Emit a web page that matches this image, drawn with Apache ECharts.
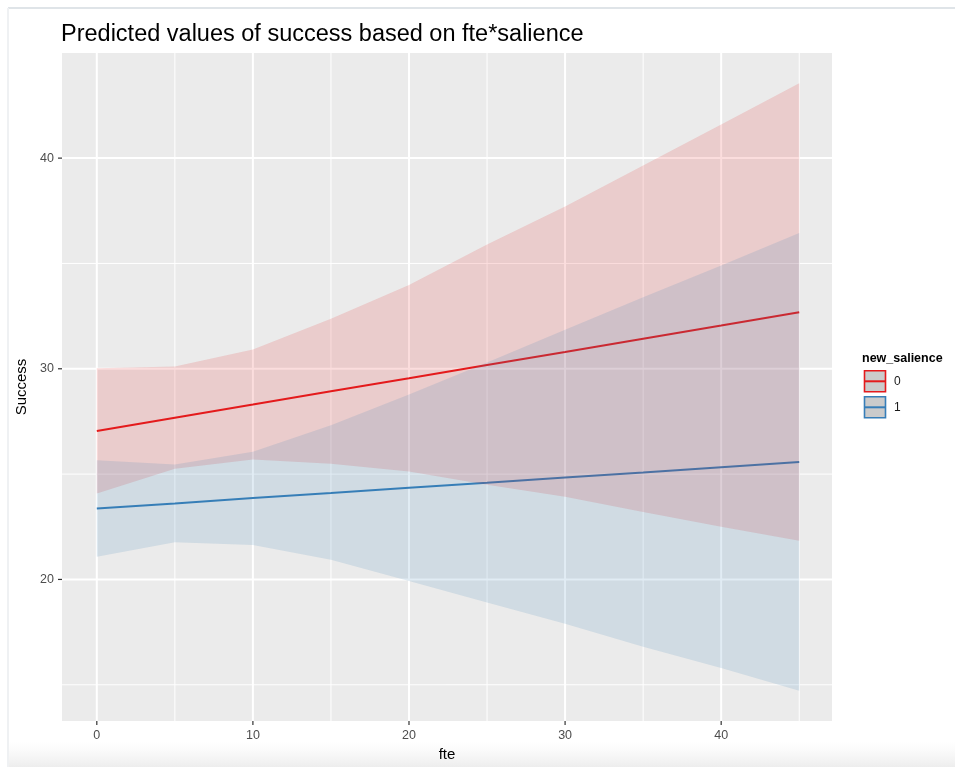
<!DOCTYPE html>
<html>
<head>
<meta charset="utf-8">
<script src="https://cdn.jsdelivr.net/npm/echarts@6/dist/echarts.min.js"></script>
<style>
  html, body { margin: 0; padding: 0; background: #ffffff; }
  #chart { width: 955px; height: 767px; }
</style>
</head>
<body>
<div id="chart"></div>
<script>
// fte values at which predictions are evaluated
const fte = [0, 5, 10, 15, 20, 25, 30, 35, 40, 45];

// new_salience = 0: predicted success and 95% CI
const fit0 = [27.05, 27.68, 28.30, 28.93, 29.55, 30.18, 30.80, 31.43, 32.05, 32.68];
const low0 = [24.08, 25.25, 25.69, 25.49, 25.12, 24.50, 23.93, 23.20, 22.50, 21.84];
const high0 = [30.03, 30.11, 30.91, 32.37, 33.98, 35.90, 37.70, 39.65, 41.60, 43.55];

// new_salience = 1: predicted success and 95% CI
const fit1 = [23.37, 23.61, 23.86, 24.10, 24.35, 24.59, 24.84, 25.08, 25.33, 25.57];
const low1 = [21.08, 21.77, 21.64, 20.93, 19.92, 18.90, 17.90, 16.80, 15.80, 14.72];
const high1 = [25.66, 25.46, 26.06, 27.32, 28.78, 30.30, 31.85, 33.40, 34.90, 36.45];

// axis breaks
const xMajor = [0, 10, 20, 30, 40];
const xMinor = [5, 15, 25, 35, 45];
const yMajor = [20, 30, 40];
const yMinor = [15, 25, 35];

const groups = ['0', '1'];
const RED = '#e41a1c';
const BLUE = '#377eb8';

const X_MIN = -2.23, X_MAX = 47.1;
const Y_MIN = 13.28, Y_MAX = 44.99;
const FONT = 'Liberation Sans, Arial, sans-serif';

const chart = echarts.init(document.getElementById('chart'), null, { renderer: 'canvas' });

// white panel grid lines (major thicker than minor) plus outward tick marks
const gridSeries = {
  type: 'custom',
  silent: true,
  z: 1,
  clip: false,
  data: [[0, 30]],
  renderItem: function (params, api) {
    const cs = params.coordSys;
    const kids = [];
    const vLine = (v, w) => {
      const px = api.coord([v, 30])[0];
      kids.push({ type: 'line', shape: { x1: px, y1: cs.y, x2: px, y2: cs.y + cs.height },
                  style: { stroke: '#ffffff', lineWidth: w } });
    };
    const hLine = (v, w) => {
      const py = api.coord([0, v])[1];
      kids.push({ type: 'line', shape: { x1: cs.x, y1: py, x2: cs.x + cs.width, y2: py },
                  style: { stroke: '#ffffff', lineWidth: w } });
    };
    xMinor.forEach(v => vLine(v, 1));
    yMinor.forEach(v => hLine(v, 1));
    xMajor.forEach(v => vLine(v, 2));
    yMajor.forEach(v => hLine(v, 2));
    const bottom = cs.y + cs.height;
    xMajor.forEach(v => {
      const px = api.coord([v, 30])[0];
      kids.push({ type: 'line', shape: { x1: px, y1: bottom, x2: px, y2: bottom + 4 },
                  style: { stroke: '#333333', lineWidth: 1.2 } });
    });
    yMajor.forEach(v => {
      const py = api.coord([0, v])[1];
      kids.push({ type: 'line', shape: { x1: cs.x - 4, y1: py, x2: cs.x, y2: py },
                  style: { stroke: '#333333', lineWidth: 1.2 } });
    });
    return { type: 'group', children: kids };
  }
};

// confidence ribbon drawn as one polygon through the axis scales
function ribbon(name, low, high, fill) {
  return {
    type: 'custom',
    name: name,
    silent: true,
    z: 5,
    data: fte.map((x, i) => [x, low[i], high[i]]),
    encode: { x: 0, y: [1, 2] },
    renderItem: function (params, api) {
      if (params.dataIndex !== 0) return null;
      const pts = [];
      for (let i = 0; i < fte.length; i++) pts.push(api.coord([fte[i], high[i]]));
      for (let i = fte.length - 1; i >= 0; i--) pts.push(api.coord([fte[i], low[i]]));
      return { type: 'polygon', shape: { points: pts }, style: { fill: fill } };
    }
  };
}

function fitLine(name, fit, color) {
  return {
    type: 'line',
    name: name,
    z: 3,
    silent: true,
    showSymbol: false,
    data: fte.map((x, i) => [x, fit[i]]),
    lineStyle: { color: color, width: 2 },
    itemStyle: { color: color }
  };
}

const axisText = { color: '#4d4d4d', fontSize: 12.5, fontFamily: FONT };

const option = {
  animation: false,
  backgroundColor: '#ffffff',
  title: {
    text: 'Predicted values of success based on fte*salience',
    left: 56,
    top: 18,
    textStyle: { fontSize: 23.5, fontWeight: 'normal', color: '#000000', fontFamily: FONT }
  },
  grid: {
    left: 62, right: 123, top: 53, bottom: 46,
    show: true, backgroundColor: '#ebebeb', borderWidth: 0
  },
  xAxis: {
    type: 'value',
    min: X_MIN, max: X_MAX,
    name: 'fte',
    nameLocation: 'middle',
    nameGap: 25,
    nameTextStyle: { color: '#000000', fontSize: 15, fontFamily: FONT },
    axisLine: { show: false },
    axisTick: { show: false },
    axisLabel: Object.assign({ margin: 8, customValues: xMajor }, axisText),
    splitLine: { show: false }
  },
  yAxis: {
    type: 'value',
    min: Y_MIN, max: Y_MAX,
    name: 'Success',
    nameLocation: 'middle',
    nameGap: 29,
    nameTextStyle: { color: '#000000', fontSize: 15, fontFamily: FONT },
    axisLine: { show: false },
    axisTick: { show: false },
    axisLabel: Object.assign({ margin: 8, customValues: yMajor }, axisText),
    splitLine: { show: false }
  },
  series: [
    gridSeries,
    fitLine(groups[0], fit0, RED),
    fitLine(groups[1], fit1, BLUE),
    ribbon(groups[0] + ' CI', low0, high0, 'rgba(228,26,28,0.15)'),
    ribbon(groups[1] + ' CI', low1, high1, 'rgba(55,126,184,0.15)')
  ],
  graphic: [
    // window frame edges and soft shadow at the bottom
    { type: 'line', silent: true, shape: { x1: 8, y1: 8, x2: 955, y2: 8 },
      style: { stroke: '#dfe4e8', lineWidth: 2 } },
    { type: 'line', silent: true, shape: { x1: 8, y1: 8, x2: 8, y2: 767 },
      style: { stroke: '#eff1f3', lineWidth: 2 } },
    { type: 'rect', silent: true, shape: { x: 9, y: 742, width: 946, height: 25 },
      style: { fill: new echarts.graphic.LinearGradient(0, 0, 0, 1, [
        { offset: 0, color: 'rgba(235,235,235,0)' },
        { offset: 1, color: 'rgba(225,225,225,0.6)' }
      ]) } },
    // legend
    { type: 'text', left: 862, top: 352, silent: true,
      style: { text: 'new_salience', fill: '#000000', fontSize: 12.5, fontWeight: 'bold', fontFamily: FONT } },
    { type: 'group', left: 862, top: 370, silent: true, children: [
      { type: 'rect', shape: { x: 1, y: 1, width: 21, height: 21 },
        style: { fill: '#cbcbcb', stroke: RED, lineWidth: 1.6 } },
      { type: 'line', shape: { x1: 1, y1: 11.5, x2: 22, y2: 11.5 },
        style: { stroke: RED, lineWidth: 2 } }
    ] },
    { type: 'group', left: 862, top: 396, silent: true, children: [
      { type: 'rect', shape: { x: 1, y: 1, width: 21, height: 21 },
        style: { fill: '#cbcbcb', stroke: BLUE, lineWidth: 1.6 } },
      { type: 'line', shape: { x1: 1, y1: 11.5, x2: 22, y2: 11.5 },
        style: { stroke: BLUE, lineWidth: 2 } }
    ] },
    { type: 'text', left: 894, top: 376, silent: true,
      style: { text: groups[0], fill: '#1a1a1a', fontSize: 12, fontFamily: FONT } },
    { type: 'text', left: 894, top: 402, silent: true,
      style: { text: groups[1], fill: '#1a1a1a', fontSize: 12, fontFamily: FONT } }
  ]
};

chart.setOption(option);
</script>
</body>
</html>
